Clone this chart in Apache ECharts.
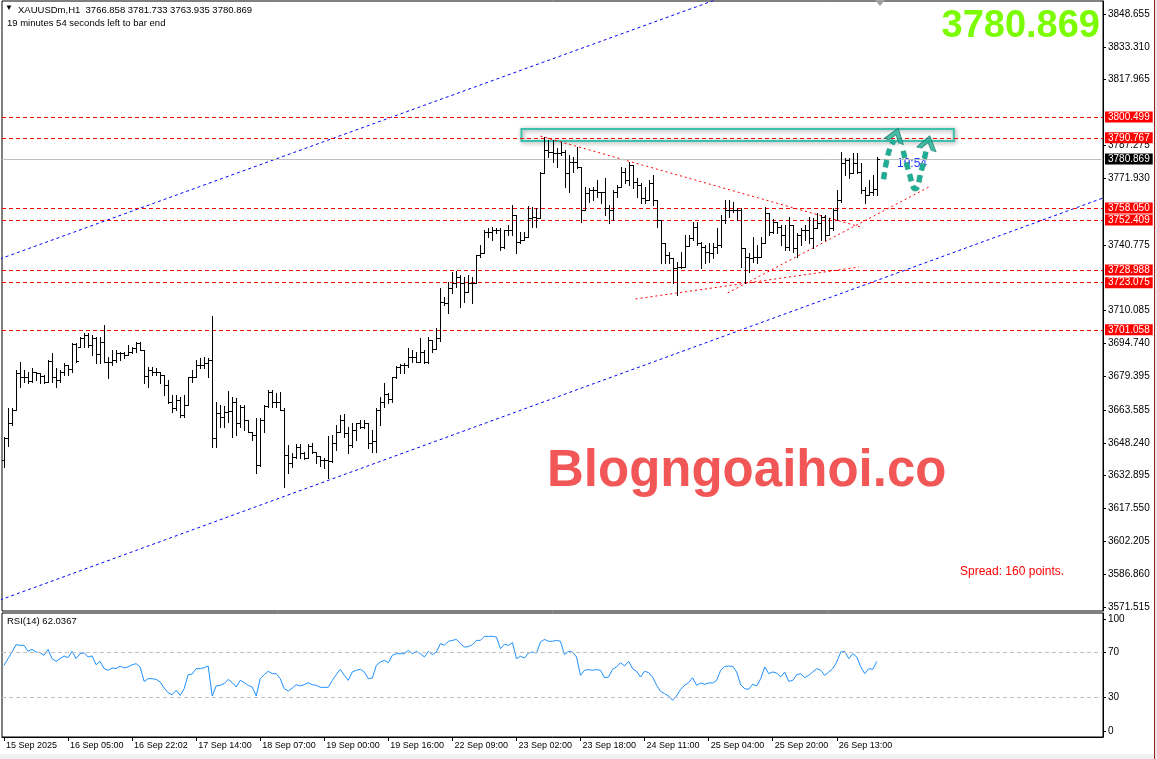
<!DOCTYPE html>
<html><head><meta charset="utf-8">
<script src="https://cdn.jsdelivr.net/npm/echarts@6/dist/echarts.min.js"></script>
<style>html,body{margin:0;padding:0;background:#fff;}#c{width:1157px;height:759px;}</style>
</head><body><div id="c"></div>
<script>
// ---- data ----
const tickLabels = ['15 Sep 2025','16 Sep 05:00','16 Sep 22:02','17 Sep 14:00','18 Sep 07:00','19 Sep 00:00','19 Sep 16:00','22 Sep 09:00','23 Sep 02:00','23 Sep 18:00','24 Sep 11:00','25 Sep 04:00','25 Sep 20:00','26 Sep 13:00'];
const tickIdx = [0,16,32,48,64,80,96,112,128,144,160,176,192,208];
const priceTicks = [3848.655,3833.310,3817.965,3787.275,3771.930,3740.775,3710.085,3694.740,3679.395,3663.585,3648.240,3632.895,3617.550,3602.205,3586.860,3571.515];
const rsiTicks = [0,30,70,100];
const levels = [3800.499,3790.767,3758.050,3752.409,3728.988,3723.075,3701.058];
const lastPrice = 3780.869;
// [open, high, low, close]
const ohlc = [
[3640.0,3651.1,3637.1,3650.7],[3650.7,3664.4,3646.8,3657.4],[3657.4,3664.4,3656.6,3663.6],[3663.6,3682.3,3663.6,3680.7],[3680.7,3686.2,3674.5,3679.2],
[3679.2,3682.3,3676.8,3679.2],[3679.2,3681.5,3676.1,3677.1],[3677.1,3683.1,3676.9,3681.5],[3681.5,3681.5,3677.6,3680.7],[3680.7,3680.7,3676.4,3679.6],
[3679.6,3680.0,3676.1,3676.8],[3676.8,3687.0,3676.8,3686.5],[3686.5,3690.1,3676.8,3679.2],[3679.2,3683.1,3674.5,3677.6],[3677.6,3682.3,3676.8,3681.5],
[3681.5,3685.4,3680.0,3684.6],[3684.6,3684.6,3680.0,3682.6],[3682.6,3694.7,3681.5,3694.3],[3694.3,3694.7,3686.2,3686.5],[3693.2,3697.9,3693.2,3697.1],
[3697.1,3699.4,3693.2,3698.6],[3698.6,3699.4,3693.2,3694.0],[3694.0,3698.6,3689.3,3697.1],[3697.1,3697.9,3685.4,3689.6],[3689.6,3697.9,3685.4,3695.5],
[3695.5,3703.3,3686.0,3686.2],[3686.2,3688.5,3678.4,3686.2],[3686.2,3691.6,3684.6,3687.0],[3687.0,3691.6,3686.2,3690.1],[3690.1,3690.9,3687.0,3690.1],
[3690.1,3690.9,3687.7,3689.3],[3689.3,3694.0,3689.3,3690.9],[3690.9,3693.2,3690.1,3692.4],[3692.4,3695.5,3690.9,3694.7],[3694.7,3695.5,3691.6,3691.6],
[3691.6,3691.6,3676.1,3679.6],[3679.6,3683.8,3674.5,3682.3],[3682.3,3683.8,3680.0,3681.5],[3681.5,3683.1,3680.0,3681.5],[3681.5,3681.5,3676.1,3680.0],
[3680.0,3680.0,3670.6,3675.3],[3675.3,3677.6,3666.7,3667.5],[3667.5,3670.6,3662.8,3664.4],[3664.4,3670.6,3663.6,3668.3],[3668.3,3669.8,3660.5,3661.2],
[3661.2,3670.6,3660.5,3665.9],[3665.9,3679.2,3665.9,3679.2],[3679.2,3682.3,3676.8,3679.2],[3679.2,3687.0,3679.2,3684.6],[3684.6,3687.7,3683.1,3684.6],
[3684.6,3688.5,3683.1,3685.4],[3685.4,3687.7,3679.2,3687.0],[3687.0,3707.5,3646.5,3650.3],[3650.3,3667.5,3646.5,3662.0],[3662.0,3665.9,3655.8,3660.5],
[3660.5,3665.5,3655.8,3662.8],[3662.8,3672.6,3658.1,3663.1],[3663.1,3669.8,3651.1,3667.5],[3667.5,3669.0,3651.9,3657.4],[3657.4,3665.9,3655.8,3665.2],
[3665.2,3665.9,3654.2,3658.9],[3658.9,3658.9,3653.5,3653.5],[3653.5,3653.5,3649.6,3651.9],[3651.9,3659.7,3634.0,3637.9],[3637.9,3659.7,3637.4,3659.0],
[3659.0,3665.9,3653.5,3665.5],[3665.5,3672.9,3665.2,3672.1],[3672.1,3672.9,3665.2,3667.5],[3667.5,3671.4,3665.2,3667.5],[3667.5,3672.1,3663.6,3663.6],
[3663.6,3664.4,3627.8,3642.6],[3642.6,3647.2,3634.3,3638.6],[3638.6,3643.3,3637.1,3641.8],[3641.8,3647.5,3641.0,3646.4],[3646.4,3647.5,3641.0,3643.3],
[3643.3,3644.1,3640.5,3641.0],[3641.0,3647.5,3641.0,3646.8],[3646.8,3648.0,3643.3,3644.1],[3644.1,3644.1,3638.6,3642.1],[3642.1,3642.1,3637.4,3640.2],
[3640.2,3641.0,3636.3,3640.2],[3640.2,3651.4,3631.6,3639.9],[3639.9,3651.9,3639.4,3648.0],[3648.0,3656.6,3644.9,3653.5],[3653.5,3661.2,3653.5,3658.9],
[3658.9,3661.7,3651.1,3653.0],[3653.0,3655.8,3643.3,3647.2],[3647.2,3657.7,3646.4,3654.2],[3654.2,3657.4,3649.6,3657.4],[3657.4,3658.9,3655.0,3655.8],
[3655.8,3658.9,3655.0,3657.7],[3657.7,3657.7,3645.7,3648.3],[3648.3,3654.2,3644.1,3649.1],[3649.1,3664.4,3644.1,3663.6],[3663.6,3669.8,3656.6,3667.5],
[3667.5,3676.1,3665.2,3671.1],[3671.1,3671.4,3666.7,3668.6],[3668.6,3679.2,3667.5,3679.2],[3679.2,3684.1,3678.4,3683.5],[3683.5,3685.1,3681.0,3684.6],
[3684.6,3685.4,3680.7,3684.6],[3684.6,3692.4,3683.8,3688.5],[3688.5,3691.6,3686.2,3688.5],[3688.5,3690.9,3686.2,3686.2],[3686.2,3697.1,3686.2,3690.9],
[3690.9,3691.6,3685.4,3686.2],[3686.2,3697.9,3685.4,3696.3],[3696.3,3696.3,3690.9,3692.1],[3692.1,3701.8,3691.9,3697.1],[3697.1,3720.5,3696.0,3714.2],
[3714.2,3716.6,3712.7,3713.4],[3713.4,3723.6,3708.8,3720.5],[3720.5,3728.2,3718.1,3722.8],[3722.8,3728.7,3721.2,3725.9],[3725.9,3726.7,3711.9,3722.8],
[3722.8,3725.9,3714.2,3718.9],[3718.9,3726.7,3718.9,3722.8],[3722.8,3725.9,3713.4,3722.8],[3722.8,3736.0,3722.8,3736.0],[3736.0,3740.7,3735.2,3736.8],
[3736.8,3747.7,3736.8,3746.9],[3746.9,3748.5,3744.6,3746.9],[3746.9,3749.3,3743.0,3747.7],[3747.7,3748.5,3746.1,3747.7],[3747.7,3748.5,3738.4,3739.9],
[3739.9,3747.7,3739.1,3747.7],[3747.7,3750.0,3745.4,3747.7],[3747.7,3759.4,3745.4,3754.7],[3754.7,3754.7,3736.8,3742.3],[3742.3,3746.9,3741.5,3743.0],
[3743.0,3746.9,3743.0,3744.6],[3744.6,3758.9,3744.6,3753.2],[3753.2,3758.6,3749.3,3753.9],[3753.9,3757.8,3749.3,3753.2],[3753.2,3775.0,3753.2,3774.5],
[3774.5,3791.3,3774.2,3785.1],[3785.1,3789.8,3782.0,3784.3],[3784.3,3789.8,3779.6,3783.5],[3783.5,3785.9,3777.3,3783.5],[3783.5,3789.0,3782.8,3784.3],
[3784.3,3785.1,3768.0,3774.2],[3774.2,3782.8,3765.6,3779.6],[3779.6,3782.0,3775.0,3779.6],[3779.6,3786.7,3776.5,3777.3],[3777.3,3777.3,3751.6,3757.1],
[3757.1,3768.0,3757.1,3764.8],[3764.8,3767.2,3761.0,3766.4],[3766.4,3768.0,3761.7,3766.4],[3766.4,3771.1,3763.3,3765.6],[3765.6,3765.6,3760.2,3765.6],
[3765.6,3771.9,3754.7,3757.8],[3757.8,3759.4,3750.8,3757.1],[3757.1,3766.4,3752.4,3765.6],[3765.6,3768.7,3763.3,3768.0],[3768.0,3777.3,3768.0,3775.0],
[3775.0,3776.5,3769.5,3771.1],[3771.1,3779.6,3768.7,3778.1],[3778.1,3778.1,3767.2,3770.3],[3770.3,3771.9,3763.3,3768.7],[3768.7,3769.5,3760.2,3762.5],
[3762.5,3768.0,3760.2,3761.7],[3761.7,3771.1,3761.7,3769.5],[3769.5,3773.4,3759.4,3761.7],[3761.7,3761.7,3749.3,3752.4],[3752.4,3752.4,3732.1,3741.5],
[3741.5,3741.5,3732.1,3736.0],[3736.0,3737.6,3732.1,3734.5],[3734.5,3734.5,3722.8,3729.8],[3729.8,3732.9,3717.3,3730.6],[3730.6,3737.6,3729.8,3730.6],
[3730.6,3745.4,3730.6,3740.2],[3740.2,3745.4,3740.2,3743.8],[3743.8,3751.6,3743.0,3749.3],[3749.3,3751.6,3740.7,3741.5],[3741.5,3742.3,3729.8,3739.9],
[3739.9,3740.7,3732.1,3737.6],[3737.6,3741.5,3732.9,3737.1],[3737.1,3741.5,3734.5,3739.9],[3739.9,3748.5,3736.8,3740.7],[3740.7,3754.7,3739.9,3752.4],
[3752.4,3761.7,3750.8,3757.1],[3757.1,3761.7,3753.9,3757.1],[3757.1,3761.0,3756.3,3757.1],[3757.1,3757.8,3752.4,3757.1],[3757.1,3757.8,3730.6,3739.1],
[3739.1,3739.1,3722.8,3735.2],[3735.2,3736.8,3728.2,3734.5],[3734.5,3744.6,3732.9,3735.2],[3735.2,3740.7,3732.1,3735.2],[3735.2,3744.6,3735.2,3741.5],
[3741.5,3758.3,3741.5,3755.5],[3755.5,3755.5,3745.4,3746.9],[3746.9,3752.7,3746.1,3751.6],[3751.6,3751.6,3746.1,3749.3],[3749.3,3750.0,3740.7,3745.4],
[3745.4,3750.0,3738.4,3739.9],[3739.9,3753.9,3738.4,3750.0],[3750.0,3750.0,3737.6,3739.1],[3739.1,3746.1,3735.2,3745.4],[3745.4,3748.5,3740.7,3747.7],
[3747.7,3750.0,3743.0,3747.7],[3747.7,3753.9,3741.5,3743.8],[3743.8,3753.2,3739.1,3748.5],[3748.5,3755.5,3748.5,3750.8],[3750.8,3754.7,3743.0,3753.9],
[3753.9,3754.7,3743.0,3745.4],[3745.4,3753.2,3745.4,3748.5],[3748.5,3757.8,3747.7,3757.1],[3757.1,3766.4,3752.4,3761.7],[3761.7,3784.3,3761.0,3778.9],
[3778.9,3781.2,3773.4,3780.4],[3780.4,3781.2,3771.9,3774.2],[3774.2,3783.5,3774.2,3778.9],[3778.9,3783.5,3774.2,3775.0],[3775.0,3778.9,3764.8,3766.4],
[3766.4,3768.0,3760.2,3764.1],[3764.1,3771.1,3764.1,3765.6],[3765.6,3773.4,3764.1,3766.9],[3766.858,3781.733,3763.935,3780.869]
];
const rsi = [
58.6,64.6,70.5,77.1,76.5,76.5,71.1,72.9,70.5,69.9,
67.6,72.9,64.6,62.2,64.6,67.0,65.5,71.1,64.6,69.0,
69.9,66.1,67.0,59.2,62.2,55.7,54.2,56.3,55.7,58.0,
56.3,57.2,59.2,60.1,57.2,44.3,46.7,46.7,46.1,43.8,
38.4,34.2,32.4,36.3,31.8,37.8,50.3,50.9,55.7,55.7,
56.5,58.0,31.3,40.2,40.8,42.3,46.1,43.2,39.3,45.2,
43.2,40.8,39.3,31.3,46.7,50.3,53.3,51.2,51.2,46.7,
37.8,35.7,38.4,41.4,40.2,41.4,43.2,41.4,40.8,39.0,
39.0,39.0,45.2,50.3,55.1,49.7,45.2,52.7,54.2,55.1,
52.7,46.7,47.3,58.6,61.6,63.1,61.0,67.6,69.0,69.0,
69.0,72.0,69.0,71.1,69.0,66.1,71.1,68.2,70.5,78.0,
76.5,80.1,80.9,81.8,78.0,75.0,75.3,77.1,80.9,80.9,
84.5,84.5,84.5,83.9,73.5,77.4,76.5,78.9,64.6,66.7,
65.2,69.6,70.5,69.6,79.5,81.8,80.1,80.1,80.9,80.1,
68.2,71.1,70.5,66.1,49.7,54.2,54.8,54.2,54.8,54.2,
47.6,48.2,55.1,57.2,61.0,58.0,62.2,55.7,53.3,48.2,
53.3,52.1,48.2,40.8,35.4,33.3,31.3,27.4,31.3,37.2,
40.8,43.2,47.6,40.8,42.9,41.7,42.9,42.9,45.2,54.2,
57.7,58.0,57.7,52.7,41.4,37.8,37.2,41.7,40.2,46.7,
57.2,51.2,52.7,51.8,48.2,52.7,44.3,45.2,50.3,51.2,
47.6,49.7,52.7,55.7,54.2,49.7,52.7,55.7,61.6,70.5,
71.1,64.6,69.0,66.1,57.2,51.2,55.7,55.1,62.0367
];
// drawn objects, in [bar index, price]
const channelUpper = [[-1,3734.2],[181,3857.5]];
const channelLower = [[-1,3574.8],[275,3763.0]];
const trendDown = [[134,3791.6],[214,3749.1]];
const trendUp = [[180.75,3718.3],[231,3767.8]];
const trendLow = [[157.75,3715.5],[213.5,3730.4]];
const boxZone = [[129.25,3794.9],[237.25,3789.3]];
const arrow1 = [[219.7,3771.5],[220.4,3779.5],[221.4,3786.5],[222.3,3789.5]];
const arrow2 = [[224.6,3784.6],[226.0,3775.0],[227.6,3767.0],[229.2,3776.0],[230.3,3784.5]];
const arrowTips = [[222.8,3792.2,-18],[230.8,3788.6,-14]];

// ---- chart ----
const FONT = '"Liberation Sans", Arial, sans-serif';
const chart = echarts.init(document.getElementById('c'), null, {renderer:'canvas'});
const barData = ohlc.map((d,i)=>[i,d[0],d[1],d[2],d[3]]);
const rsiData = rsi.map((v,i)=>[i,v]);

function renderBar(params, api){
  const i = api.value(0);
  const pO = api.coord([i, api.value(1)]);
  const pH = api.coord([i, api.value(2)]);
  const pL = api.coord([i, api.value(3)]);
  const pC = api.coord([i, api.value(4)]);
  const X = Math.round(pO[0]);
  const x = X + 0.5;
  const yo = Math.round(pO[1]) + 0.5, yc = Math.round(pC[1]) + 0.5;
  const st = {stroke:'#000', lineWidth:1};
  return {type:'group', children:[
    {type:'line', shape:{x1:x,y1:Math.round(pH[1]),x2:x,y2:Math.round(pL[1])+1}, style:st},
    {type:'line', shape:{x1:X-2,y1:yo,x2:X,y2:yo}, style:st},
    {type:'line', shape:{x1:X+1,y1:yc,x2:X+3,y2:yc}, style:st}
  ]};
}
const redLabel = {show:true, position:'end', distance:2, formatter:p=>Number(p.value).toFixed(3),
  color:'#fff', backgroundColor:'#ff0000', padding:[1,3,0,3], fontSize:10, fontFamily:FONT};
const lineSeries = (data, color, dash) => ({type:'line', xAxisIndex:0, yAxisIndex:0, data, symbol:'none', silent:true,
  lineStyle:{color, width:1, type:dash}, z:3, animation:false});
const arrowLine = (data) => ({type:'line', xAxisIndex:0, yAxisIndex:0, data, symbol:'none', silent:true, smooth:0.5, z:8,
  lineStyle:{color:'#1fae95', width:5, type:[7,5], shadowColor:'rgba(0,60,50,0.6)', shadowBlur:1}});

const option = {
  animation:false,
  backgroundColor:'#ffffff',
  grid:[
    {left:2, top:1, width:1101, height:610, show:true, borderColor:'#000', borderWidth:1, backgroundColor:'rgba(0,0,0,0)'},
    {left:2, top:613, width:1101, height:124, show:true, borderColor:'#000', borderWidth:1, backgroundColor:'rgba(0,0,0,0)'}
  ],
  xAxis:[
    {type:'value', gridIndex:0, min:-0.5, max:274.5, axisLine:{show:false, onZero:false}, axisTick:{show:false}, axisLabel:{show:false}, splitLine:{show:false}},
    {type:'value', gridIndex:1, min:-0.5, max:274.5, axisLine:{show:true, onZero:false, lineStyle:{color:'#000'}},
      axisTick:{show:true, customValues:tickIdx, length:4, lineStyle:{color:'#000'}},
      axisLabel:{customValues:tickIdx, formatter:v=>tickLabels[tickIdx.indexOf(Math.round(v))]||'', align:'left', margin:4,
        fontSize:9, color:'#000', fontFamily:FONT, padding:[0,0,0,2]},
      splitLine:{show:false}}
  ],
  yAxis:[
    {type:'value', gridIndex:0, position:'right', min:3569.66, max:3854.73,
      axisLine:{show:true, onZero:false, lineStyle:{color:'#000'}},
      axisTick:{show:true, customValues:priceTicks, length:3, lineStyle:{color:'#000'}},
      axisLabel:{customValues:priceTicks, formatter:v=>v.toFixed(3), fontSize:10, color:'#000', margin:5, fontFamily:FONT},
      splitLine:{show:false}},
    {type:'value', gridIndex:1, position:'right', min:-5.36, max:105.36,
      axisLine:{show:true, onZero:false, lineStyle:{color:'#000'}},
      axisTick:{show:true, customValues:rsiTicks, length:3, lineStyle:{color:'#000'}},
      axisLabel:{customValues:rsiTicks, formatter:v=>String(v), fontSize:10, color:'#000', margin:5, fontFamily:FONT},
      splitLine:{show:false}}
  ],
  series:[
    lineSeries(channelUpper,'#0000ff',[3,3]),
    lineSeries(channelLower,'#0000ff',[3,3]),
    lineSeries(trendDown,'#ff0000',[2,3]),
    lineSeries(trendUp,'#ff0000',[2,3]),
    lineSeries(trendLow,'#ff0000',[2,3]),
    {type:'custom', xAxisIndex:0, yAxisIndex:0, data:barData, encode:{x:0, y:[1,2,3,4]}, renderItem:renderBar, z:5, silent:true,
      markLine:{silent:true, symbol:['none','none'], animation:false, precision:3,
        data:[
          ...levels.map(v=>({yAxis:v, lineStyle:{color:'#ff0000', type:[4,3], width:1}, label:redLabel})),
          {yAxis:lastPrice, lineStyle:{color:'#c0c0c0', type:'solid', width:1},
            label:Object.assign({}, redLabel, {backgroundColor:'#000'})}
        ]},
      markArea:{silent:true,
        itemStyle:{color:'rgba(0,0,0,0)', borderColor:'#3fbfae', borderWidth:2, shadowColor:'rgba(0,0,0,0.45)', shadowBlur:4, shadowOffsetX:1, shadowOffsetY:1},
        data:[[{coord:boxZone[0]},{coord:boxZone[1]}]]}
    },
    arrowLine(arrow1),
    arrowLine(arrow2),
    {type:'scatter', xAxisIndex:0, yAxisIndex:0, silent:true, z:9,
      data:arrowTips.map(t=>({value:[t[0],t[1]], symbolRotate:t[2]})),
      symbol:'path://M0,0 L10,-12 L20,0 L15,0 L10,-6 L5,0 Z', symbolSize:[20,14], symbolKeepAspect:false,
      itemStyle:{color:'#1fae95', borderColor:'#137a68', borderWidth:0.8}},
    {type:'line', xAxisIndex:1, yAxisIndex:1, data:rsiData, symbol:'none', silent:true,
      lineStyle:{color:'#1e90ff', width:1},
      markLine:{silent:true, symbol:['none','none'], label:{show:false},
        lineStyle:{color:'#c0c0c0', type:[4,3], width:1}, data:[{yAxis:70},{yAxis:30}]}}
  ],
  graphic:[
    {type:'text', left:5, top:4, style:{text:'\u25BC', font:'8px '+FONT, fill:'#000'}},
    {type:'text', left:18, top:5, style:{text:'XAUUSDm,H1  3766.858 3781.733 3763.935 3780.869', font:'9.5px '+FONT, fill:'#000'}},
    {type:'text', left:7, top:18, style:{text:'19 minutes 54 seconds left to bar end', font:'9.5px '+FONT, fill:'#000'}},
    {type:'text', right:57, top:8, style:{text:'3780.869', font:'bold 38px '+FONT, fill:'#7cfc00'}},
    {type:'text', left:897, top:158, z:1, style:{text:'19:54', font:'12px '+FONT, fill:'#1a3cff'}},
    {type:'text', left:545, top:444, style:{text:'Blogngoaihoi.co', font:'bold 51px '+FONT, fill:'#f25757', stroke:'#ffffff', lineWidth:4,
      shadowColor:'rgba(0,0,0,0.6)', shadowBlur:3, shadowOffsetX:2, shadowOffsetY:2}},
    {type:'text', left:960, top:566, style:{text:'Spread: 160 points.', font:'12px '+FONT, fill:'#ff0000'}},
    {type:'text', left:7, top:616, style:{text:'RSI(14) 62.0367', font:'9.5px '+FONT, fill:'#000'}},
    {type:'polygon', shape:{points:[[875,0],[885,0],[880,6]]}, style:{fill:'#a0a0a0'}},
    {type:'rect', shape:{x:1154, y:0, width:1, height:759}, style:{fill:'#a01c1c'}},
    {type:'rect', shape:{x:1155, y:0, width:2, height:759}, style:{fill:'#e6e6e6'}},
    {type:'rect', shape:{x:0, y:754, width:1154, height:5}, style:{fill:'#f0f0f0'}}
  ]
};
chart.setOption(option);
</script></body></html>
